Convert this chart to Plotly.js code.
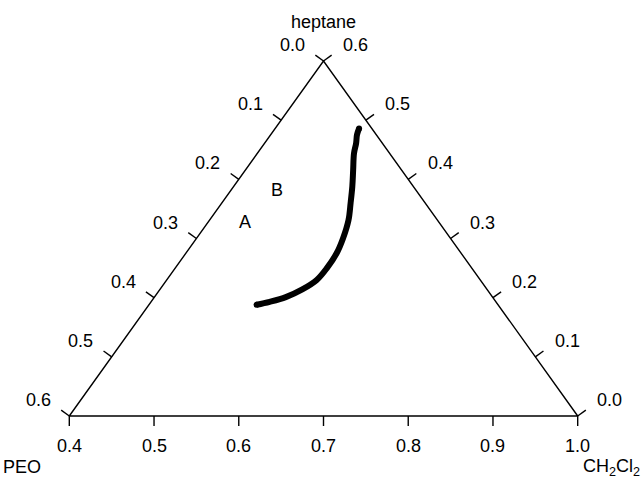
<!DOCTYPE html>
<html>
<head>
<meta charset="utf-8">
<script src="https://cdn.plot.ly/plotly-3.0.1.min.js"></script>
<style>html,body{margin:0;padding:0;background:#fff;}#chart{width:644px;height:478px;}</style>
</head>
<body>
<div id="chart"></div>
<script>
// ---- data (ternary compositions: heptane + PEO + CH2Cl2 = 1) ----
const curveHeptane = [0.188, 0.193, 0.201, 0.214, 0.230, 0.250, 0.275, 0.300, 0.331, 0.360, 0.388, 0.416, 0.444, 0.461, 0.475, 0.486];
const curvePEO     = [0.285, 0.267, 0.244, 0.218, 0.193, 0.171, 0.147, 0.127, 0.105, 0.088, 0.072, 0.057, 0.042, 0.031, 0.023, 0.015];
const curveCH2Cl2  = [0.527, 0.540, 0.555, 0.568, 0.577, 0.579, 0.578, 0.573, 0.564, 0.552, 0.540, 0.527, 0.514, 0.508, 0.502, 0.499];

const pointLabels  = ['A', 'B'];
const labelHeptane = [0.328, 0.382];
const labelPEO     = [0.229, 0.164];
const labelCH2Cl2  = [0.443, 0.454];

// tick values (composition of the component read on that edge)
const bottomTicks = [0.4, 0.5, 0.6, 0.7, 0.8, 0.9, 1.0];   // CH2Cl2
const leftTicks   = [0.0, 0.1, 0.2, 0.3, 0.4, 0.5, 0.6];   // PEO
const rightTicks  = [0.0, 0.1, 0.2, 0.3, 0.4, 0.5, 0.6];   // heptane
const axisNames = {top: 'heptane', left: 'PEO', right: 'CH<sub>2</sub>Cl<sub>2</sub>'};
const cMin = 0.4; // lower bound of CH2Cl2 shown

// ---- transform composition -> plane ----
const toX = (h, c) => c + h / 2;
const toY = (h) => h;

// ---- pixel layout of the triangle ----
const W = 644, H = 478;
const pxL = 69.3, pxR = 577.7, pyB = 416, pyT = 61;
const span = 1 - cMin;
const sx = (pxR - pxL) / span, sy = (pyB - pyT) / span;
const xr = [cMin - pxL / sx, cMin - pxL / sx + W / sx];
const yr = [-(H - pyB) / sy, span + pyT / sy];

const font = {family: 'Liberation Sans, Arial, Helvetica, sans-serif', size: 18, color: '#000'};

// triangle vertices
const vTop = [toX(span, cMin), toY(span)];
const vBL = [toX(0, cMin), toY(0)];
const vBR = [toX(0, 1), toY(0)];

const traces = [];
traces.push({
  x: [vBL[0], vBR[0], vTop[0], vBL[0]], y: [vBL[1], vBR[1], vTop[1], vBL[1]],
  mode: 'lines', line: {color: '#000', width: 1.4}, hoverinfo: 'skip'
});

// outward normals in pixel space
const ex = (vTop[0] - vBL[0]) * sx, ey = -(vTop[1] - vBL[1]) * sy;
const el = Math.hypot(ex, ey);
const nL = [ey / el, -ex / el];           // screen coords (x right, y down)
const nR = [-nL[0], nL[1]];
const tickLen = 10;

const tx = [], ty = [];
const annotations = [];
function addTick(X, Y, n, label, xs, ys) {
  tx.push(X, X + n[0] * tickLen / sx, null);
  ty.push(Y, Y - n[1] * tickLen / sy, null);
  annotations.push({x: X, y: Y, xref: 'x', yref: 'y', text: label, showarrow: false,
    xshift: xs, yshift: ys, xanchor: 'center', yanchor: 'middle', font: font});
}
bottomTicks.forEach(v => addTick(toX(0, v), toY(0), [0, 1], v.toFixed(1), 0, -30));
leftTicks.forEach(v => { const h = span - v; addTick(toX(h, cMin), toY(h), nL, v.toFixed(1), -31, 16); });
rightTicks.forEach(v => addTick(toX(v, 1 - v), toY(v), nR, v.toFixed(1), 32, 16));
traces.push({x: tx, y: ty, mode: 'lines', line: {color: '#000', width: 1.4}, hoverinfo: 'skip'});

// axis titles
annotations.push({x: vTop[0], y: vTop[1], xref: 'x', yref: 'y', text: axisNames.top, showarrow: false, yshift: 39, font: font});
annotations.push({x: vBL[0], y: vBL[1], xref: 'x', yref: 'y', text: axisNames.left, showarrow: false, xshift: -47, yshift: -51, font: font});
annotations.push({x: vBR[0], y: vBR[1], xref: 'x', yref: 'y', text: axisNames.right, showarrow: false, xshift: 34, yshift: -51, font: font});

// point labels
pointLabels.forEach((t, i) => annotations.push({
  x: toX(labelHeptane[i], labelCH2Cl2[i]), y: toY(labelHeptane[i]), xref: 'x', yref: 'y',
  text: t, showarrow: false, font: font
}));

// curve
const nPts = curveHeptane.length;
traces.push({
  x: curveHeptane.map((h, i) => toX(h, curveCH2Cl2[i])),
  y: curveHeptane.map(h => toY(h)),
  customdata: curvePEO,
  mode: 'lines+markers', line: {color: '#000', width: 6, shape: 'spline', smoothing: 1},
  marker: {color: '#000', opacity: 1, line: {width: 0},
           size: curveHeptane.map((h, i) => (i === 0 || i === nPts - 1) ? 6 : 0)},
  cliponaxis: false
});

const layout = {
  width: W, height: H, margin: {l: 0, r: 0, t: 0, b: 0},
  paper_bgcolor: '#fff', plot_bgcolor: '#fff', showlegend: false,
  xaxis: {range: xr, visible: false, fixedrange: true},
  yaxis: {range: yr, visible: false, fixedrange: true},
  annotations: annotations
};
Plotly.newPlot('chart', traces, layout, {staticPlot: true, displayModeBar: false});
</script>
</body>
</html>
